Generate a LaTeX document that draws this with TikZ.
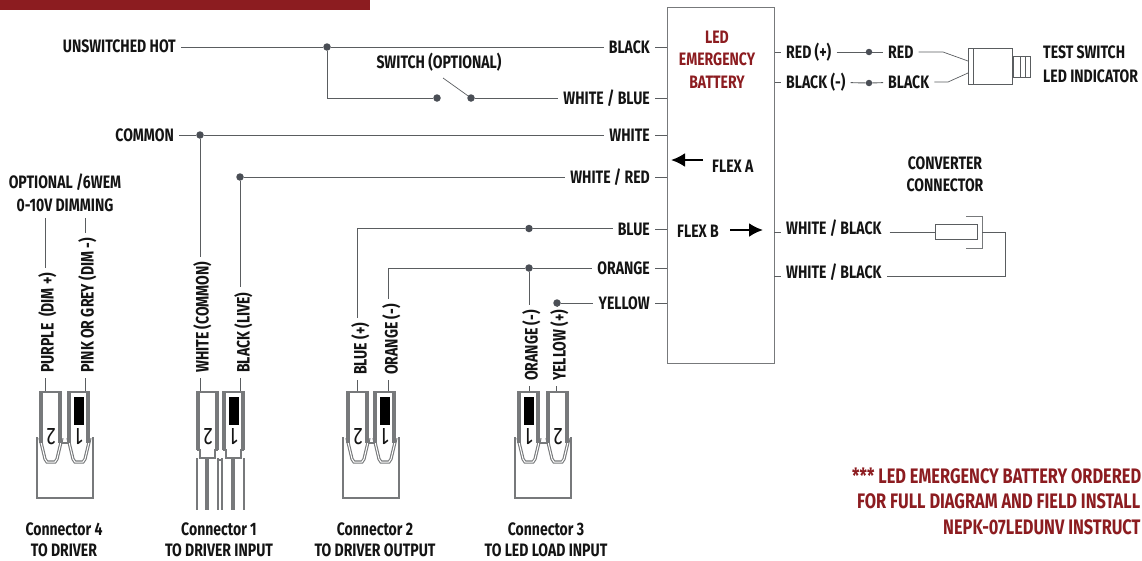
\documentclass[tikz,border=0pt]{standalone}
\usepackage{fontspec}
\setmainfont{Fira Sans}[FakeStretch=0.78]
\usetikzlibrary{arrows.meta, positioning, calc}
\definecolor{brandred}{HTML}{8C1C20}
\definecolor{wiregray}{HTML}{5A5D60}
\definecolor{boxgray}{HTML}{77797B}
\definecolor{dotgray}{HTML}{4A4E55}
\definecolor{inkblack}{HTML}{141414}

\tikzset{
  wire/.style={draw=wiregray, line width=0.9pt},
  boxline/.style={draw=boxgray, line width=1.2pt},
  pinline/.style={draw=boxgray, line width=1.1pt},
  lbl/.style={font=\bfseries\fontsize{18}{21}\selectfont, text=inkblack, inner sep=5pt, text height=13pt, text depth=0pt},
  vlbl/.style={lbl, rotate=90, anchor=west},
  redlbl/.style={lbl, text=brandred},
  notelbl/.style={redlbl, font=\bfseries\fontsize{21}{24}\selectfont, text height=15pt, anchor=west, inner sep=0pt},
  dot/.style={circle, fill=dotgray, inner sep=0pt, minimum size=7.5pt},
  flexarrow/.style={-{Latex[length=14pt,width=14pt]}, line width=2.4pt, black},
  pindigit/.style={rotate=180, font=\fontsize{24}{24}\selectfont, text=inkblack, inner sep=0pt}
}

% one pin cell of a plug: left x, bottom y, digit
\newcommand{\conhousing}[3]{
  \draw[pinline, fill=white] (#1,#2) -- (#1,392) -- (#1+21,392) -- (#1+21,#2);
  \draw[pinline] (#1+2,392) -- (#1+2,#2) (#1+19,392) -- (#1+19,#2);
  \ifnum#3=1 \fill[black] (#1+6,397) rectangle (#1+16,425); \fi
  \node[pindigit] (digit#1) at (#1+11,437) {#3};
}
% sleeve with latches under two pin cells
\newcommand{\consleeve}[3]{
  \draw[boxgray, line width=1.6pt] (#1,437) -- (#1,498) -- (#1+56,498) -- (#1+56,437);
  \foreach \c in {#2,#3} {
    \draw[pinline, double=white, double distance=1pt] (\c,438) -- (\c+5,459) -- (\c+7,462) -- (\c+15,462) -- (\c+17,459) -- (\c+22,438);
  }
}

\begin{document}
\begin{tikzpicture}[x=1pt, y=-1pt]
  \useasboundingbox (0,0) rectangle (1142,560);
  \fill[brandred] (0,0) rectangle (370,10);

  % battery box
  \node[boxline, draw, minimum width=107pt, minimum height=356pt, inner sep=0pt, anchor=north west] (ebox) at (667,7) {};
  \node[redlbl, inner sep=0pt] (ledtxt) at (717,37) {LED};
  \node[redlbl, inner sep=0pt] (emertxt) at (717,59) {EMERGENCY};
  \node[redlbl, inner sep=0pt] (battxt) at (717,82) {BATTERY};
  \node[lbl, anchor=west, inner sep=0pt] (flexa) at (712,166) {FLEX A};
  \node[lbl, anchor=west, inner sep=0pt] (flexb) at (677,231) {FLEX B};
  \coordinate (flexatail) at (703,160);
  \coordinate (flexahead) at (671,160);
  \coordinate (flexbtail) at (730,230);
  \coordinate (flexbhead) at (763,230);
  \draw[flexarrow] (flexatail) -- (flexahead);
  \draw[flexarrow] (flexbtail) -- (flexbhead);

  % left labels of the box
  \node[lbl, anchor=east] (lblack) at (655,47) {BLACK};
  \node[lbl, anchor=east] (lwblue) at (655,98) {WHITE / BLUE};
  \node[lbl, anchor=east] (lwhite) at (655,135) {WHITE};
  \node[lbl, anchor=east] (lwred) at (655,177) {WHITE / RED};
  \node[lbl, anchor=east] (lblue) at (655,229) {BLUE};
  \node[lbl, anchor=east] (lorange) at (655,268) {ORANGE};
  \node[lbl, anchor=east] (lyellow) at (655,303) {YELLOW};
  \foreach \n in {lblack,lwblue,lwhite,lwred,lblue,lorange,lyellow} {
    \draw[wire] (\n.east) -- (\n.east -| ebox.west);
  }

  % supply side
  \node[lbl, anchor=east] (unhot) at (181,46) {UNSWITCHED HOT};
  \node[lbl, anchor=east] (common) at (179,135) {COMMON};
  \node[lbl] (swlbl) at (439,62) {SWITCH (OPTIONAL)};
  \node[dot] (hotdot) at (327,47) {};
  \node[dot] (swa) at (437,98) {};
  \node[dot] (swb) at (471,98) {};
  \coordinate (swarm) at (443,78);
  \coordinate (hotcorner) at (327,98);
  \node[dot] (comdot) at (200,135) {};
  \node[dot] (livedot) at (240,177) {};
  \draw[wire] (unhot.east |- hotdot) -- (hotdot) -- (lblack);
  \draw[wire] (hotdot) -- (hotcorner) -- (swa);
  \draw[wire, line width=0.7pt] (swb) -- (swarm);
  \draw[wire] (swb) -- (lwblue);
  \draw[wire] (common) -- (comdot) -- (lwhite);
  \draw[wire] (livedot) -- (lwred);

  % output side
  \node[dot] (bluedot) at (529,228.5) {};
  \node[dot] (orangedot) at (529,268) {};
  \node[dot] (yellowdot) at (557,303) {};
  \coordinate (bluecorner) at (357,228.5);
  \coordinate (orangecorner) at (388,268);
  \draw[wire] (bluecorner) -- (bluedot) -- (lblue.west |- bluedot);
  \draw[wire] (orangecorner) -- (orangedot) -- (lorange);
  \draw[wire] (yellowdot) -- (lyellow);

  % vertical labels over the plugs
  \node[vlbl] (vpurple) at (47,378) {PURPLE\ \ (DIM +)};
  \node[vlbl] (vpink) at (87,378) {PINK OR GREY (DIM -)};
  \node[vlbl] (vwcom) at (202,378) {WHITE (COMMON)};
  \node[vlbl] (vlive) at (243,378) {BLACK (LIVE)};
  \node[vlbl] (vblue) at (360,380) {BLUE (+)};
  \node[vlbl] (vorange) at (391,380) {ORANGE (-)};
  \node[vlbl] (vorb) at (531,386) {ORANGE (-)};
  \node[vlbl] (vyel) at (559,386) {YELLOW (+)};
  \node[lbl, inner sep=0pt] (optlbl) at (65,182) {OPTIONAL /6WEM};
  \node[lbl, inner sep=0pt] (dimlbl) at (65,205) {0-10V DIMMING};
  \coordinate (topa) at (45,218);
  \coordinate (topb) at (85,218);
  \draw[wire] (topa) -- (vpurple.east -| topa);
  \draw[wire] (topb) -- (vpink.east -| topb);
  \draw[wire] (comdot) -- (vwcom.east -| comdot);
  \draw[wire] (livedot) -- (vlive.east -| livedot);
  \draw[wire] (bluecorner) -- (vblue.east -| bluecorner);
  \draw[wire] (orangecorner) -- (vorange.east -| orangecorner);
  \draw[wire] (orangedot) -- (vorb.east -| orangedot);
  \draw[wire] (yellowdot) -- (vyel.east -| yellowdot);
  \foreach \n/\m/\xx in {vpurple/p1/45,vpink/p2/85,vwcom/p3/200,vlive/p4/240,vblue/p5/357,vorange/p6/388,vorb/p7/529,vyel/p8/556} {
    \coordinate (\m) at (\xx,392);
    \draw[wire] (\n.west -| \m) -- (\m);
  }

  % plugs
  \consleeve{37}{40}{68}
  \conhousing{40}{443}{2}
  \conhousing{68}{443}{1}
  \draw[pinline] (61,443) -- (69,443);
  \consleeve{343}{347}{374}
  \conhousing{347}{443}{2}
  \conhousing{374}{443}{1}
  \draw[pinline] (368,443) -- (375,443);
  \consleeve{515}{518}{547}
  \conhousing{518}{443}{1}
  \conhousing{547}{443}{2}
  \draw[pinline] (539,443) -- (548,443);
  % connector 1 has open leads
  \conhousing{197}{450}{2}
  \conhousing{223}{450}{1}
  \draw[pinline] (197,450) -- (200,450) -- (200,458) -- (215,458) -- (215,450) -- (218,450);
  \draw[pinline] (223,450) -- (226,450) -- (226,458) -- (241,458) -- (241,450) -- (244,450);
  \foreach \xx in {197,206,208,222,232,234,218,244} {
    \draw[pinline] (\xx,458) -- (\xx,510);
  }
  \draw[pinline] (218,460) -- (222,460);
  \node[lbl, inner sep=0pt] (con4) at (64,529) {Connector 4};
  \node[lbl, inner sep=0pt] (con4b) at (64,549.5) {TO DRIVER};
  \node[lbl, inner sep=0pt] (con1) at (219,529) {Connector 1};
  \node[lbl, inner sep=0pt] (con1b) at (219,549.5) {TO DRIVER INPUT};
  \node[lbl, inner sep=0pt] (con2) at (375,529) {Connector 2};
  \node[lbl, inner sep=0pt] (con2b) at (375,549.5) {TO DRIVER OUTPUT};
  \node[lbl, inner sep=0pt] (con3) at (546,529) {Connector 3};
  \node[lbl, inner sep=0pt] (con3b) at (546,549.5) {TO LED LOAD INPUT};

  % test switch
  \node[lbl, anchor=west] (rplus) at (781,52) {RED (+)};
  \node[lbl, anchor=west] (bminus) at (781,82) {BLACK (-)};
  \node[lbl, anchor=west] (rlead) at (883,52) {RED};
  \node[lbl, anchor=west] (blead) at (883,82) {BLACK};
  \node[dot, minimum size=6.5pt] (rdot) at (869,52) {};
  \node[dot, minimum size=6.5pt] (bdot) at (869,83) {};
  \draw[wire] (rplus.west -| ebox.east) -- (rplus);
  \draw[wire] (bminus.west -| ebox.east) -- (bminus);
  \draw[wire] (rplus) -- (rdot) -- (rlead);
  \draw[wire] (bminus) -- (bdot) -- (blead);
  \node[boxline, draw=wiregray, line width=0.8pt, minimum width=44pt, minimum height=36pt, inner sep=0pt, anchor=north west] (indbody) at (968,48) {};
  \node[draw=wiregray, line width=0.8pt, minimum width=17pt, minimum height=21pt, inner sep=0pt, anchor=west] (indtip) at (indbody.east) {};
  \draw[wire, line width=0.7pt] (973,48) -- (973,84) (1020,56.5) -- (1020,77.5) (1025,56.5) -- (1025,77.5);
  \coordinate (rbend) at (943,52);
  \coordinate (bbend) at (948,82);
  \draw[wire, line width=0.7pt] (rlead) -- (rbend) -- (968,61);
  \draw[wire, line width=0.7pt] (blead) -- (bbend) -- (968,73);
  \node[lbl, anchor=west, inner sep=0pt] (testa) at (1043,52) {TEST SWITCH};
  \node[lbl, anchor=west, inner sep=0pt] (testb) at (1043,76) {LED INDICATOR};

  % converter
  \node[lbl, inner sep=0pt] (cva) at (945,163) {CONVERTER};
  \node[lbl, inner sep=0pt] (cvb) at (945,185) {CONNECTOR};
  \node[lbl, anchor=west] (wbtop) at (781,228) {WHITE / BLACK};
  \node[lbl, anchor=west] (wbbot) at (781,272) {WHITE / BLACK};
  \node[draw=wiregray, line width=0.9pt, minimum width=42pt, minimum height=15pt, inner sep=0pt, anchor=west] (cvbody) at (935,232) {};
  \coordinate (cvwirea) at (774,232);
  \coordinate (cvwireb) at (774,276);
  \coordinate (cvturn) at (1005,232);
  \coordinate (cvturnb) at (1005,276);
  \coordinate (cvback) at (982,232);
  \draw[wire] (cvwirea) -- ++(7,0);
  \draw[wire] (cvwireb) -- ++(7,0);
  \draw[wire] (wbtop.east |- cvbody) ++(3,0) -- (cvbody);
  \draw[boxline, line width=0.8pt] (966,216) -- (982,216) -- (982,248) -- (966,248);
  \draw[wire] (cvback) -- (cvturn) -- (cvturnb) -- (wbbot.east |- cvturnb);

  % note
  \node[notelbl] (noteone) at (852,476) {*** LED EMERGENCY BATTERY ORDERED};
  \node[notelbl] (notetwo) at (857,501) {FOR FULL DIAGRAM AND FIELD INSTALL};
  \node[notelbl] (notethree) at (943,527) {NEPK-07LEDUNV INSTRUCT};
\end{tikzpicture}
\end{document}
